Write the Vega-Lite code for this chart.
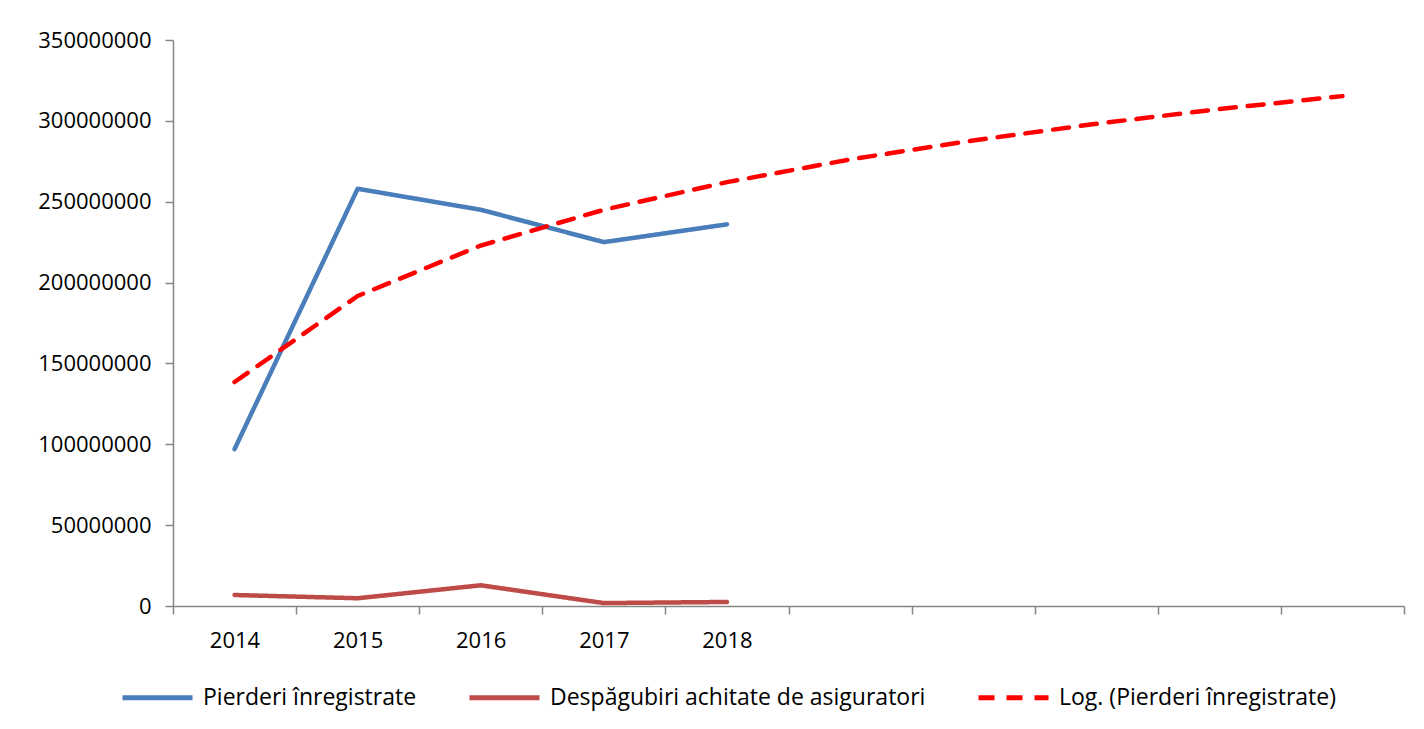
{
  "$schema": "https://vega.github.io/schema/vega-lite/v6.json",
  "autosize": "none",
  "width": 1231,
  "height": 566,
  "padding": {"left": 173, "top": 40, "right": 20, "bottom": 123},
  "background": "white",
  "config": {"view": {"stroke": null}, "font": "Open Sans"},
  "data": {"values": [
    {"year": 2014, "value": 97000000, "series": "Pierderi înregistrate"},
    {"year": 2015, "value": 258000000, "series": "Pierderi înregistrate"},
    {"year": 2016, "value": 245000000, "series": "Pierderi înregistrate"},
    {"year": 2017, "value": 225000000, "series": "Pierderi înregistrate"},
    {"year": 2018, "value": 236000000, "series": "Pierderi înregistrate"},
    {"year": 2014, "value": 6800000, "series": "Despăgubiri achitate de asiguratori"},
    {"year": 2015, "value": 4800000, "series": "Despăgubiri achitate de asiguratori"},
    {"year": 2016, "value": 12800000, "series": "Despăgubiri achitate de asiguratori"},
    {"year": 2017, "value": 1800000, "series": "Despăgubiri achitate de asiguratori"},
    {"year": 2018, "value": 2500000, "series": "Despăgubiri achitate de asiguratori"},
    {"year": 2014, "value": 138500000, "series": "Log. (Pierderi înregistrate)"},
    {"year": 2015, "value": 191700000, "series": "Log. (Pierderi înregistrate)"},
    {"year": 2016, "value": 222900000, "series": "Log. (Pierderi înregistrate)"},
    {"year": 2017, "value": 245000000, "series": "Log. (Pierderi înregistrate)"},
    {"year": 2018, "value": 262100000, "series": "Log. (Pierderi înregistrate)"},
    {"year": 2019, "value": 276100000, "series": "Log. (Pierderi înregistrate)"},
    {"year": 2020, "value": 287900000, "series": "Log. (Pierderi înregistrate)"},
    {"year": 2021, "value": 298200000, "series": "Log. (Pierderi înregistrate)"},
    {"year": 2022, "value": 307300000, "series": "Log. (Pierderi înregistrate)"},
    {"year": 2023, "value": 315300000, "series": "Log. (Pierderi înregistrate)"}
  ]},
  "mark": {"type": "line", "strokeWidth": 4.5, "strokeCap": "round", "strokeJoin": "round"},
  "encoding": {
    "x": {
      "field": "year", "type": "quantitative",
      "scale": {"domain": [2013.5, 2023.5], "nice": false, "zero": false},
      "axis": {
        "title": null,
        "values": [2013.5, 2014.5, 2015.5, 2016.5, 2017.5, 2018.5, 2019.5, 2020.5, 2021.5, 2022.5, 2023.5],
        "labelExpr": "datum.value < 2018 ? format(datum.value + 0.5, 'd') : ''",
        "labelOffset": 61.5,
        "labelFlush": false,
        "labelOverlap": false,
        "labelPadding": 16,
        "labelFontSize": 22,
        "labelColor": "#000000",
        "tickSize": 8,
        "tickColor": "#868686",
        "domainColor": "#868686",
        "domainWidth": 1.5,
        "tickWidth": 1.5,
        "grid": false
      }
    },
    "y": {
      "field": "value", "type": "quantitative",
      "scale": {"domain": [0, 350000000], "nice": false},
      "axis": {
        "title": null,
        "values": [0, 50000000, 100000000, 150000000, 200000000, 250000000, 300000000, 350000000],
        "format": "d",
        "labelPadding": 14,
        "labelFontSize": 22,
        "labelColor": "#000000",
        "tickSize": 8,
        "tickColor": "#868686",
        "domainColor": "#868686",
        "domainWidth": 1.5,
        "tickWidth": 1.5,
        "grid": false
      }
    },
    "color": {
      "field": "series", "type": "nominal",
      "scale": {
        "domain": ["Pierderi înregistrate", "Despăgubiri achitate de asiguratori", "Log. (Pierderi înregistrate)"],
        "range": ["#4A7EBB", "#BE4B48", "#FF0000"]
      },
      "legend": {
        "orient": "none",
        "legendX": -58,
        "legendY": 615,
        "direction": "horizontal",
        "title": null,
        "symbolType": "stroke",
        "symbolSize": 4900,
        "symbolStrokeWidth": 5,
        "labelFontSize": 23,
        "labelColor": "#000000",
        "labelLimit": 600,
        "labelOffset": 8,
        "columnPadding": 42,
        "padding": 5
      }
    },
    "strokeDash": {
      "field": "series", "type": "nominal",
      "scale": {
        "domain": ["Pierderi înregistrate", "Despăgubiri achitate de asiguratori", "Log. (Pierderi înregistrate)"],
        "range": [[1, 0], [1, 0], [16, 12]]
      },
      "legend": null
    }
  }
}
